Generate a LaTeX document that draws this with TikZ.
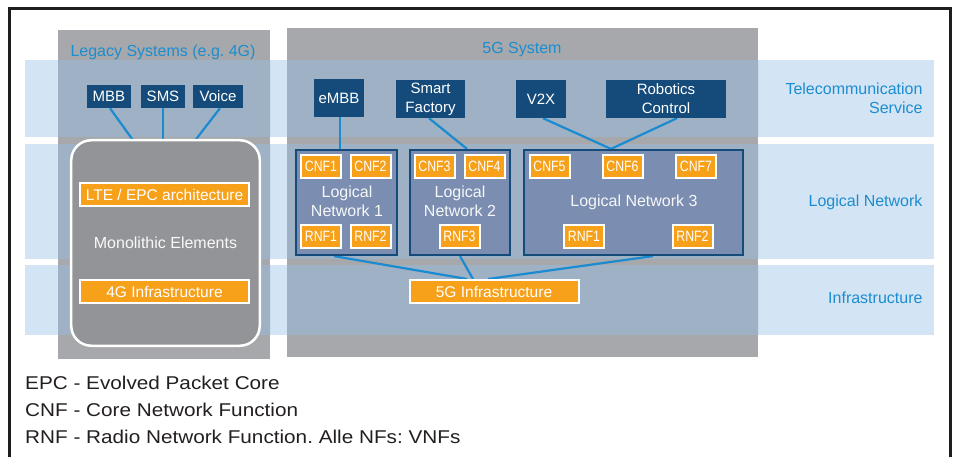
\documentclass[tikz,border=0pt]{standalone}
\usepackage{fontspec}
\setmainfont{Liberation Sans}
\newfontfamily\cnffont[FakeStretch=0.82]{Liberation Sans}
\newfontfamily\legfont[FakeStretch=1.12]{Liberation Sans}
\usetikzlibrary{calc}
\frenchspacing
\definecolor{bandblue}{HTML}{D3E4F4}
\definecolor{sysgray}{HTML}{A7A8AB}
\definecolor{overlapc}{HTML}{9FB1C4}
\definecolor{navy}{HTML}{154B7B}
\definecolor{lnfill}{HTML}{7B8DB0}
\definecolor{orng}{HTML}{F7A11B}
\definecolor{linkblue}{HTML}{1A8BD1}
\definecolor{monogray}{HTML}{939497}
\definecolor{labelblue}{HTML}{1C8DD0}
\definecolor{legendtext}{HTML}{231F20}
\definecolor{framec}{HTML}{1E1E1E}
\pgfdeclarelayer{background}
\pgfdeclarelayer{lines}
\pgfsetlayers{background,lines,main}
\tikzset{
 svc/.style={fill=navy, text=white, inner sep=0pt, align=center, font=\fontsize{15bp}{19bp}\selectfont},
 nf/.style={fill=orng, draw=white, line width=2bp, text=white, inner sep=0pt, minimum width=40bp, minimum height=23bp, font=\cnffont\fontsize{15bp}{17bp}\selectfont},
 bar/.style={fill=orng, draw=white, line width=2bp, text=white, inner sep=0pt, minimum width=169bp, minimum height=23bp, font=\fontsize{15.5bp}{18bp}\selectfont},
 lnbox/.style={fill=lnfill, draw=navy, line width=2.2bp, inner sep=0pt, minimum height=105bp},
 lntext/.style={text=white!93!lnfill, align=center, font=\fontsize{16bp}{19bp}\selectfont},
 link/.style={draw=linkblue, line width=2.2bp},
 syslabel/.style={text=labelblue, font=\fontsize{16bp}{19bp}\selectfont},
 layerlabel/.style={text=labelblue, anchor=east, align=right, font=\fontsize{16bp}{19bp}\selectfont},
 legend/.style={text=legendtext, anchor=west, inner sep=0pt, font=\legfont\fontsize{18.5bp}{22bp}\selectfont},
}
\begin{document}
\begin{tikzpicture}[x=1bp,y=-1bp]
\useasboundingbox (0,0) rectangle (958,457);
\begin{pgfonlayer}{background}
\fill[white] (0,0) rectangle (958,457);
\fill[bandblue] (25,60) rectangle (934,137);
\fill[bandblue] (25,144) rectangle (934,259);
\fill[bandblue] (25,265) rectangle (934,335);
\fill[sysgray] (58,30) rectangle (270,359);
\fill[sysgray] (287,28) rectangle (758,357);
\begin{scope}
\clip (58,30) rectangle (270,359) (287,28) rectangle (758,357);
\fill[overlapc] (25,60) rectangle (934,137);
\fill[overlapc] (25,144) rectangle (934,259);
\fill[overlapc] (25,265) rectangle (934,335);
\end{scope}
\draw[framec, line width=3bp] (9.5,457) -- (9.5,8.5) -- (950,8.5) -- (950,457);
\end{pgfonlayer}

% system labels
\node[syslabel] (legacylbl) at (163,52) {Legacy Systems (e.g. 4G)};
\node[syslabel] (fivelbl) at (522,50) {5G System};

% layer labels
\node[layerlabel] (tslbl) at (926,98.5) {Telecommunication\\Service};
\node[layerlabel] (lnlbl) at (926,202) {Logical Network};
\node[layerlabel] (inlbl) at (926,298) {Infrastructure};

% services
\node[svc, minimum width=44bp, minimum height=23bp] (mbb) at (109,96.5) {MBB};
\node[svc, minimum width=44bp, minimum height=23bp] (sms) at (163,96.5) {SMS};
\node[svc, minimum width=50bp, minimum height=23bp] (voice) at (218,96.5) {Voice};
\node[svc, minimum width=50bp, minimum height=38bp] (embb) at (339,98) {eMBB};
\node[svc, minimum width=69bp, minimum height=38bp] (sf) at (430.5,99) {Smart\\Factory};
\node[svc, minimum width=50bp, minimum height=38bp] (v2x) at (541,99) {V2X};
\node[svc, minimum width=120bp, minimum height=38bp] (rob) at (666,99) {Robotics\\Control};

% legacy monolithic
\node[draw=white, line width=2.5bp, fill=monogray, rounded corners=20bp, minimum width=188.5bp, minimum height=205.5bp, text=white!94!monogray, font=\fontsize{16bp}{19bp}\selectfont] (mono) at (165.5,243) {Monolithic Elements};
\node[bar] (lte) at (164.5,194.5) {LTE / EPC architecture};
\node[bar] (inf4g) at (164.5,291.5) {4G Infrastructure};

% logical networks
\node[lnbox, minimum width=101bp] (ln1) at (346.5,202.5) {};
\node[lnbox, minimum width=100bp] (ln2) at (460,202.5) {};
\node[lnbox, minimum width=219bp] (ln3) at (633.5,202.5) {};
\node[lntext] (ln1txt) at (347,201.5) {Logical\\Network 1};
\node[lntext] (ln2txt) at (460,201.5) {Logical\\Network 2};
\node[lntext] (ln3txt) at (634,202) {Logical Network 3};

\node[nf] (cnf1) at (321,166.5) {CNF1};
\node[nf] (cnf2) at (370.5,166.5) {CNF2};
\node[nf] (cnf3) at (434.5,166.5) {CNF3};
\node[nf] (cnf4) at (484.5,166.5) {CNF4};
\node[nf] (cnf5) at (549.5,166.5) {CNF5};
\node[nf] (cnf6) at (622.5,166.5) {CNF6};
\node[nf] (cnf7) at (696,166.5) {CNF7};
\node[nf] (rnf1a) at (321,236.5) {RNF1};
\node[nf] (rnf2a) at (370.5,236.5) {RNF2};
\node[nf] (rnf3) at (459.5,236.5) {RNF3};
\node[nf] (rnf1b) at (584,236.5) {RNF1};
\node[nf] (rnf2b) at (692.5,236.5) {RNF2};

\node[bar] (inf5g) at (494,291.5) {5G Infrastructure};

% legend
\node[legend] (leg1) at (25,383) {EPC - Evolved Packet Core};
\node[legend] (leg2) at (25,410) {CNF - Core Network Function};
\node[legend] (leg3) at (25,437) {RNF - Radio Network Function. Alle NFs: VNFs};

% connectors
\begin{pgfonlayer}{lines}
\draw[link] ($(mbb.south)+(1,0)$) -- ($(lte.north)+(-1.5,0)$);
\draw[link] (sms.south) -- ($(lte.north)+(-1.5,0)$);
\draw[link] ($(voice.south)+(2,0)$) -- ($(lte.north)+(-1.5,0)$);
\draw[link] ($(embb.south)+(1,0)$) -- ($(ln1.north)+(-6.5,0)$);
\draw[link] ($(sf.south)+(-1.5,0)$) -- ($(ln2.north)+(7,0)$);
\draw[link] ($(v2x.south)+(2,0)$) -- ($(ln3.north)+(-22.5,0)$);
\draw[link] ($(rob.south)+(11,0)$) -- ($(ln3.north)+(-22.5,0)$);
\draw[link] ($(ln1.south)+(-12.5,0)$) -- ($(inf5g.north)+(-27,0)$);
\draw[link] (ln2.south) -- ($(inf5g.north)+(-21,0)$);
\draw[link] ($(ln3.south)+(19.5,0)$) -- ($(inf5g.north)+(-6,0)$);
\end{pgfonlayer}
\end{tikzpicture}
\end{document}
